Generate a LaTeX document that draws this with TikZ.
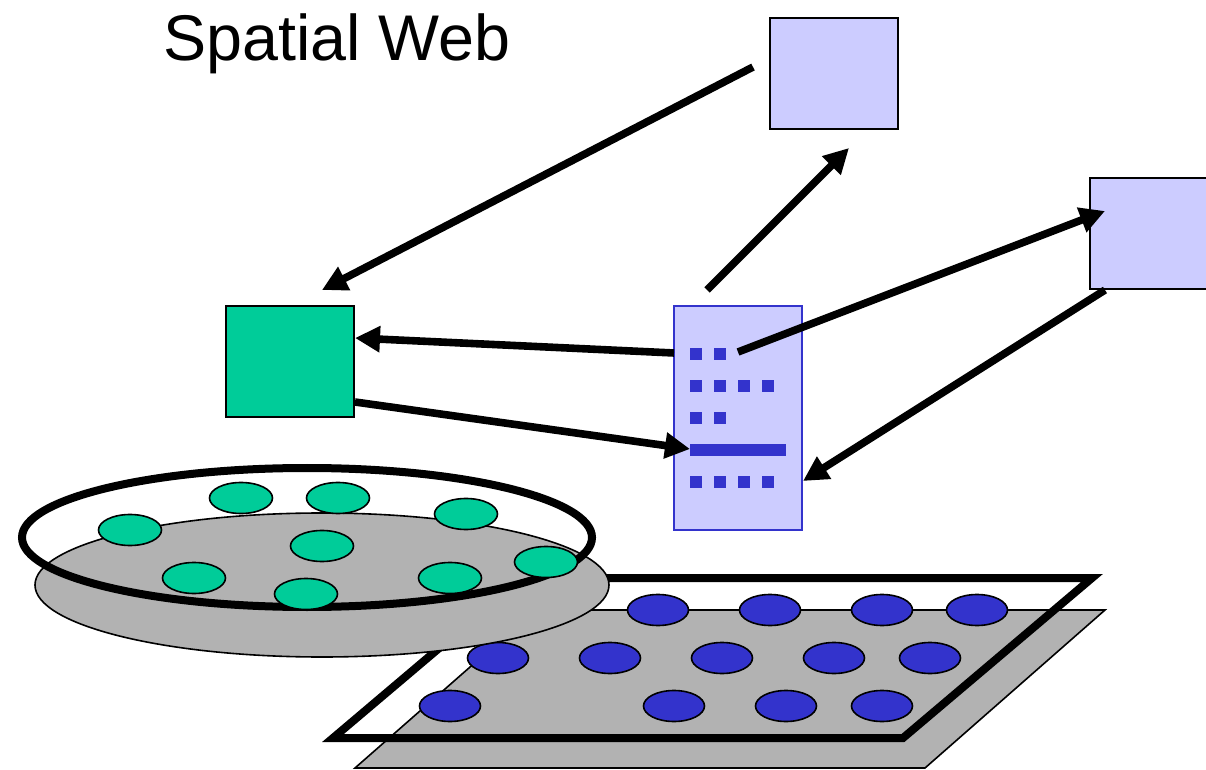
\documentclass[tikz,border=0pt]{standalone}
\usepackage{fontspec}
\setmainfont{Liberation Sans}
\usetikzlibrary{arrows.meta,positioning,shapes.geometric}

\definecolor{placegreen}{HTML}{00CC99}
\definecolor{lavender}{HTML}{CCCCFF}
\definecolor{dotblue}{HTML}{3333CC}
\definecolor{plategray}{HTML}{B2B2B2}

\begin{document}
\begin{tikzpicture}[x=0.5pt, y=-0.5pt,
    box/.style={rectangle, draw, line width=1pt, minimum width=64pt, minimum height=55.5pt, inner sep=0pt},
    link/.style={line width=3.8pt, -{Triangle[length=12.5pt,width=12.5pt]}},
    spot/.style={draw, line width=0.8pt}]
    \useasboundingbox (0,0) rectangle (1206,770);

    % title
    \node[anchor=base west, inner sep=0pt, font=\fontsize{32.3}{38}\selectfont] (title) at (163,61) {Spatial Web};

    % flat grid plane
    \draw[fill=plategray, line width=0.8pt] (355,768) -- (925,768) -- (1105,610) -- (535,610) -- cycle;
    \draw[line width=4pt] (333,738) -- (903,738) -- (1092,578) -- (522,578) -- cycle;
    \foreach \x/\y in {658/610, 770/610, 882/610, 977/610,
                       498/658, 610/658, 722/658, 834/658, 930/658,
                       450/706, 674/706, 786/706, 882/706}
        \draw[spot, fill=dotblue] (\x,\y) ellipse [x radius=30.5, y radius=15.5];

    % disc with its places
    \draw[fill=plategray, line width=0.8pt] (322,585) ellipse [x radius=287, y radius=72];
    \draw[line width=4pt] (307,537.5) ellipse [x radius=285, y radius=69.5];
    \foreach \x/\y in {130/530, 241/498, 338/498, 466/514, 322/546,
                       194/578, 306/594, 450/578, 546/562}
        \draw[spot, fill=placegreen] (\x,\y) ellipse [x radius=31.5, y radius=15.5];

    % boxes
    \node[box, fill=placegreen] (place) at (290,361.5) {};
    \node[box, fill=lavender] (server) at (834,74) {};
    \node[box, fill=lavender] (peer) at (1154,234) {};
    \node[rectangle, draw=dotblue, line width=0.8pt, fill=lavender, minimum width=64pt, minimum height=112pt, inner sep=0pt] (page) at (738,418) {};

    % page contents
    \foreach \x/\y in {690/348, 714/348,
                       690/380, 714/380, 738/380, 762/380,
                       690/412, 714/412,
                       690/476, 714/476, 738/476, 762/476}
        \fill[dotblue] (\x,\y) rectangle ++(12,12);
    \fill[dotblue] (690,444) rectangle (786,456);

    % link ends
    \coordinate (serverL) at (753,67);
    \coordinate (placeT) at (322,290);
    \coordinate (pageT) at (707,290);
    \coordinate (serverB) at (849,148);
    \coordinate (linkA) at (738,352);
    \coordinate (peerL) at (1105,211);
    \coordinate (peerB) at (1105,290);
    \coordinate (pageR) at (803,481);
    \coordinate (pageL) at (674,353);
    \coordinate (placeR) at (355,338);
    \coordinate (placeBR) at (355,402);
    \coordinate (bar) at (690,449);

    % links
    \draw[link] (serverL) -- (placeT);
    \draw[link] (pageT) -- (serverB);
    \draw[link] (linkA) -- (peerL);
    \draw[link] (peerB) -- (pageR);
    \draw[link] (pageL) -- (placeR);
    \draw[link] (placeBR) -- (bar);
\end{tikzpicture}
\end{document}
